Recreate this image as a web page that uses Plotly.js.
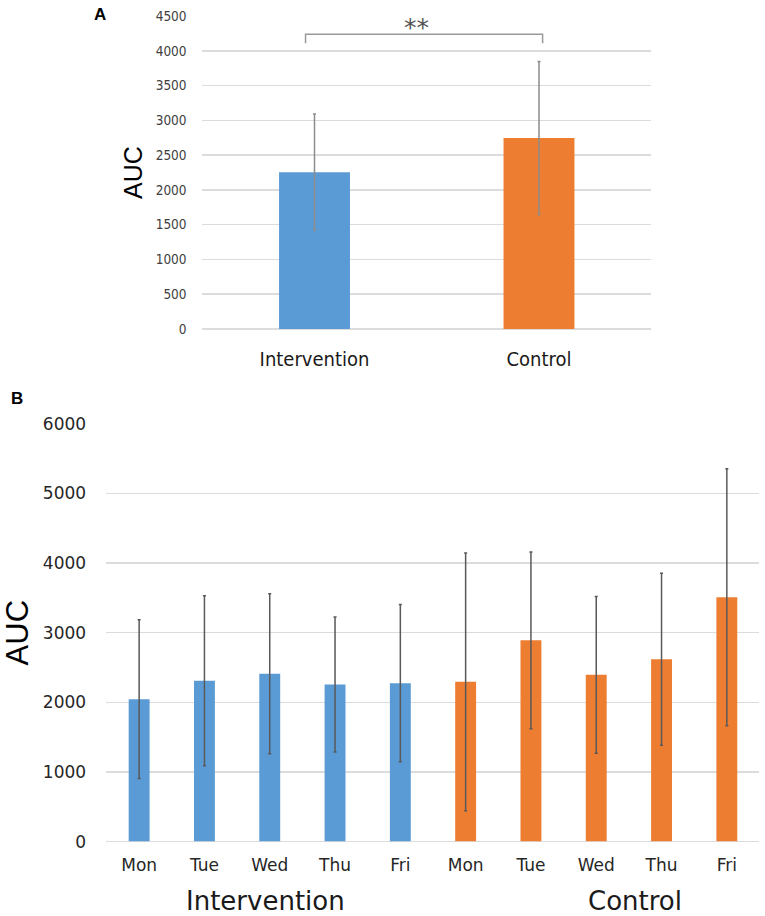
<!DOCTYPE html>
<html><head><meta charset="utf-8">
<script src="https://cdn.plot.ly/plotly-3.0.1.min.js"></script>
<style>html,body{margin:0;padding:0;background:#fff}#chart{width:765px;height:916px}</style>
</head><body><div id="chart"></div>
<script>
// ---- data ----
const groupsA = ['Intervention', 'Control'];
const meansA = [2255, 2745];
const sdA = [835, 1100];

const days = ['Mon', 'Tue', 'Wed', 'Thu', 'Fri'];
const interventionMeans = [2045, 2310, 2410, 2255, 2275];
const interventionSD = [1140, 1220, 1150, 970, 1130];
const controlMeans = [2295, 2890, 2395, 2620, 3510];
const controlSD = [1850, 1270, 1125, 1235, 1845];

const yTicksA = [0, 500, 1000, 1500, 2000, 2500, 3000, 3500, 4000, 4500];
const yTicksB = [0, 1000, 2000, 3000, 4000, 5000, 6000];

// ---- styles ----
const blue = '#5B9BD5', orange = '#ED7D31';
const cond = '"DejaVu Sans Condensed", "DejaVu Sans", sans-serif';
const dejavu = '"DejaVu Sans", Verdana, sans-serif';
const arial = '"Liberation Sans", Arial, sans-serif';

const xA = groupsA.map((_, i) => i);
const xInt = days.map((_, i) => i);
const xCtl = days.map((_, i) => i + days.length);

const traces = [
  {
    type: 'bar', x: xA, y: meansA, width: 0.316,
    marker: {color: [blue, orange]},
    error_y: {type: 'data', array: sdA, visible: true, color: '#8c8c8c', thickness: 1.5, width: 1.5},
    xaxis: 'x', yaxis: 'y', hoverinfo: 'y', showlegend: false
  },
  {
    type: 'bar', x: xInt, y: interventionMeans, width: 0.32,
    marker: {color: blue},
    error_y: {type: 'data', array: interventionSD, visible: true, color: '#595959', thickness: 1.5, width: 1.5},
    xaxis: 'x2', yaxis: 'y2', name: 'Intervention', showlegend: false
  },
  {
    type: 'bar', x: xCtl, y: controlMeans, width: 0.32,
    marker: {color: orange},
    error_y: {type: 'data', array: controlSD, visible: true, color: '#595959', thickness: 1.5, width: 1.5},
    xaxis: 'x2', yaxis: 'y2', name: 'Control', showlegend: false
  }
];

const bx0 = xA[0] - 0.04, bx1 = xA[1] + 0.016, byTop = 4237, byEnd = 4108;

const layout = {
  width: 765, height: 916,
  margin: {l: 0, r: 0, t: 0, b: 0},
  paper_bgcolor: '#fff', plot_bgcolor: '#fff',
  barmode: 'overlay',
  showlegend: false,
  xaxis: {
    domain: [0.2644, 0.8513], range: [-0.5, 1.5],
    tickvals: xA, ticktext: groupsA,
    showgrid: false, zeroline: false, showline: false,
    ticks: 'outside', ticklen: 12, tickcolor: 'rgba(0,0,0,0)',
    tickfont: {family: cond, size: 20, color: '#1a1a1a'},
    anchor: 'y', fixedrange: true
  },
  yaxis: {
    domain: [0.6408, 0.98253], range: [0, 4500],
    tickvals: yTicksA,
    gridcolor: '#dcdcdc', gridwidth: 1.5,
    zeroline: true, zerolinecolor: '#dcdcdc', zerolinewidth: 1.5,
    showline: false,
    ticks: 'outside', ticklen: 12, tickcolor: 'rgba(0,0,0,0)',
    tickfont: {family: cond, size: 13.5, color: '#404040'},
    title: {text: 'AUC', font: {family: arial, size: 25, color: '#000'}, standoff: 5},
    anchor: 'x', fixedrange: true
  },
  xaxis2: {
    domain: [0.1392, 0.9928], range: [-0.5, 9.5],
    tickvals: xInt.concat(xCtl), ticktext: days.concat(days),
    showgrid: false, zeroline: false, showline: false,
    ticks: 'outside', ticklen: 8, tickcolor: 'rgba(0,0,0,0)',
    tickfont: {family: dejavu, size: 17, color: '#262626'},
    anchor: 'y2', fixedrange: true
  },
  yaxis2: {
    domain: [0.0812, 0.5374], range: [0, 6000],
    tickvals: yTicksB,
    gridcolor: '#dcdcdc', gridwidth: 1.5,
    zeroline: true, zerolinecolor: '#dcdcdc', zerolinewidth: 1.5,
    showline: false,
    ticks: 'outside', ticklen: 16, tickcolor: 'rgba(0,0,0,0)',
    tickfont: {family: dejavu, size: 17, color: '#262626'},
    title: {text: 'AUC', font: {family: arial, size: 31, color: '#000'}, standoff: 12},
    anchor: 'x2', fixedrange: true
  },
  shapes: [
    {
      type: 'path', xref: 'x', yref: 'y',
      path: `M ${bx0},${byEnd} L ${bx0},${byTop} L ${bx1},${byTop} L ${bx1},${byEnd}`,
      line: {color: '#9a9a9a', width: 1.5}
    }
  ],
  annotations: [
    {text: '<b>A</b>', xref: 'paper', yref: 'paper', x: 100 / 765, y: 1 - 14.5 / 916,
     xanchor: 'center', yanchor: 'middle', showarrow: false, font: {family: arial, size: 17, color: '#000'}},
    {text: '<b>B</b>', xref: 'paper', yref: 'paper', x: 17 / 765, y: 1 - 398.5 / 916,
     xanchor: 'center', yanchor: 'middle', showarrow: false, font: {family: arial, size: 17, color: '#000'}},
    {text: '**', xref: 'x', yref: 'y', x: 0.454, y: 4340,
     xanchor: 'center', yanchor: 'middle', showarrow: false, font: {family: dejavu, size: 25, color: '#555'}},
    {text: 'Intervention', xref: 'x2', yref: 'paper', x: 1.93, y: 1 - 901 / 916,
     xanchor: 'center', yanchor: 'middle', showarrow: false, font: {family: dejavu, size: 26, color: '#1a1a1a'}},
    {text: 'Control', xref: 'x2', yref: 'paper', x: 7.59, y: 1 - 901 / 916,
     xanchor: 'center', yanchor: 'middle', showarrow: false, font: {family: dejavu, size: 26, color: '#1a1a1a'}}
  ]
};

Plotly.newPlot('chart', traces, layout, {displayModeBar: false, staticPlot: true});
</script>
</body></html>
